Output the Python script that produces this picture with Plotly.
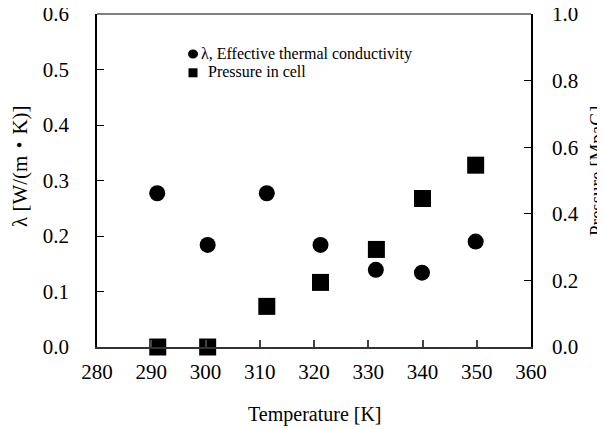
import plotly.graph_objects as go

# Data
temperature_lambda = [291.1, 300.4, 311.3, 321.2, 331.4, 339.9, 349.8]
lambda_values = [0.277, 0.184, 0.277, 0.184, 0.139, 0.134, 0.190]

temperature_pressure = [291.2, 300.4, 311.3, 321.2, 331.5, 340.0, 349.8]
pressure_values = [0.0, 0.0, 0.122, 0.194, 0.293, 0.446, 0.546]

x_ticks = [280, 290, 300, 310, 320, 330, 340, 350, 360]
y_ticks = [0.0, 0.1, 0.2, 0.3, 0.4, 0.5, 0.6]
y2_ticks = [0.0, 0.2, 0.4, 0.6, 0.8, 1.0]

FONT = "Liberation Serif"
CJK = "Noto Sans CJK JP"
OFF = 8  # default page body margin

fig = go.Figure()
fig.add_trace(go.Scatter(
    x=temperature_lambda, y=lambda_values, mode="markers",
    marker=dict(symbol="circle", size=16, color="black"),
    name="λ, Effective thermal conductivity", cliponaxis=False, yaxis="y"))
fig.add_trace(go.Scatter(
    x=temperature_pressure, y=pressure_values, mode="markers",
    marker=dict(symbol="square", size=17, color="black"),
    name="Pressure in cell", cliponaxis=False, yaxis="y2"))

# plot area in page pixels: x 97..531, y 14..347
W, H = 605 - OFF, 429 - OFF
L, T = 97 - OFF, 14 - OFF
R = W - (531 - OFF)
B = H - (347 - OFF)
pw, ph = W - L - R, H - T - B

def px(x):
    return (x - OFF - L) / pw

def py(y):
    return 1 - (y - OFF - T) / ph

tickfont = dict(family=FONT, size=21, color="black")

fig.update_layout(
    width=W, height=H,
    margin=dict(l=L, r=R, t=T, b=B, autoexpand=False),
    paper_bgcolor="white", plot_bgcolor="white",
    showlegend=False,
    font=dict(family=FONT, color="black", size=20),
    xaxis=dict(range=[280, 360], tickvals=x_ticks, ticks="inside", ticklen=7,
               tickcolor="#444", tickwidth=1.5, showline=True, linecolor="#333",
               linewidth=2, showgrid=False, zeroline=False,
               tickfont=tickfont, ticklabelstandoff=5, ticklabeloverflow="allow"),
    yaxis=dict(range=[0, 0.6], tickvals=y_ticks, tickformat=".1f", ticks="inside",
               ticklen=7, tickcolor="black", tickwidth=1, showline=True,
               linecolor="black", linewidth=1.5, showgrid=False, zeroline=False,
               tickfont=tickfont, ticklabelstandoff=22, ticklabeloverflow="allow"),
    yaxis2=dict(range=[0, 1.0], tickvals=y2_ticks, tickformat=".1f", ticks="inside",
                ticklen=7, tickcolor="black", tickwidth=1, showline=True,
                linecolor="black", linewidth=1.5, showgrid=False, zeroline=False,
                overlaying="y", side="right",
                tickfont=tickfont, ticklabelstandoff=15, ticklabeloverflow="allow"),
    shapes=[
        dict(type="line", xref="paper", yref="paper", x0=0, x1=1, y0=1, y1=1,
             line=dict(color="black", width=1.2)),
        dict(type="circle", xref="paper", yref="paper", xsizemode="pixel",
             ysizemode="pixel", xanchor=px(193), yanchor=py(54),
             x0=-5, x1=5, y0=-4.6, y1=4.6, fillcolor="black", line=dict(width=0)),
        dict(type="rect", xref="paper", yref="paper", xsizemode="pixel",
             ysizemode="pixel", xanchor=px(193), yanchor=py(72.8),
             x0=-4.5, x1=4.5, y0=-4.5, y1=4.5, fillcolor="black", line=dict(width=0)),
    ],
    annotations=[
        dict(text="λ, Effective thermal conductivity", xref="paper", yref="paper",
             x=px(199), y=py(54), xanchor="left", yanchor="middle", showarrow=False,
             font=dict(family=FONT, size=16)),
        dict(text="Pressure in cell", xref="paper", yref="paper",
             x=px(206), y=py(72), xanchor="left", yanchor="middle", showarrow=False,
             font=dict(family=FONT, size=16)),
        dict(text="Temperature [K]", xref="paper", yref="paper",
             x=px(315), y=py(414), xanchor="center", yanchor="middle", showarrow=False,
             font=dict(family=FONT, size=20)),
        dict(text="λ [W/(m<span style=\"font-family:'" + CJK + "'\">・</span>K)]",
             xref="paper", yref="paper", textangle=-90,
             x=px(18), y=py(166), xanchor="center", yanchor="middle", showarrow=False,
             font=dict(family=FONT, size=21)),
        dict(text="Pressure [MpaG]", xref="paper", yref="paper", textangle=-90,
             x=px(597), y=py(171), xanchor="center", yanchor="middle", showarrow=False,
             font=dict(family=FONT, size=19)),
    ],
)

fig.write_html("out.html")
